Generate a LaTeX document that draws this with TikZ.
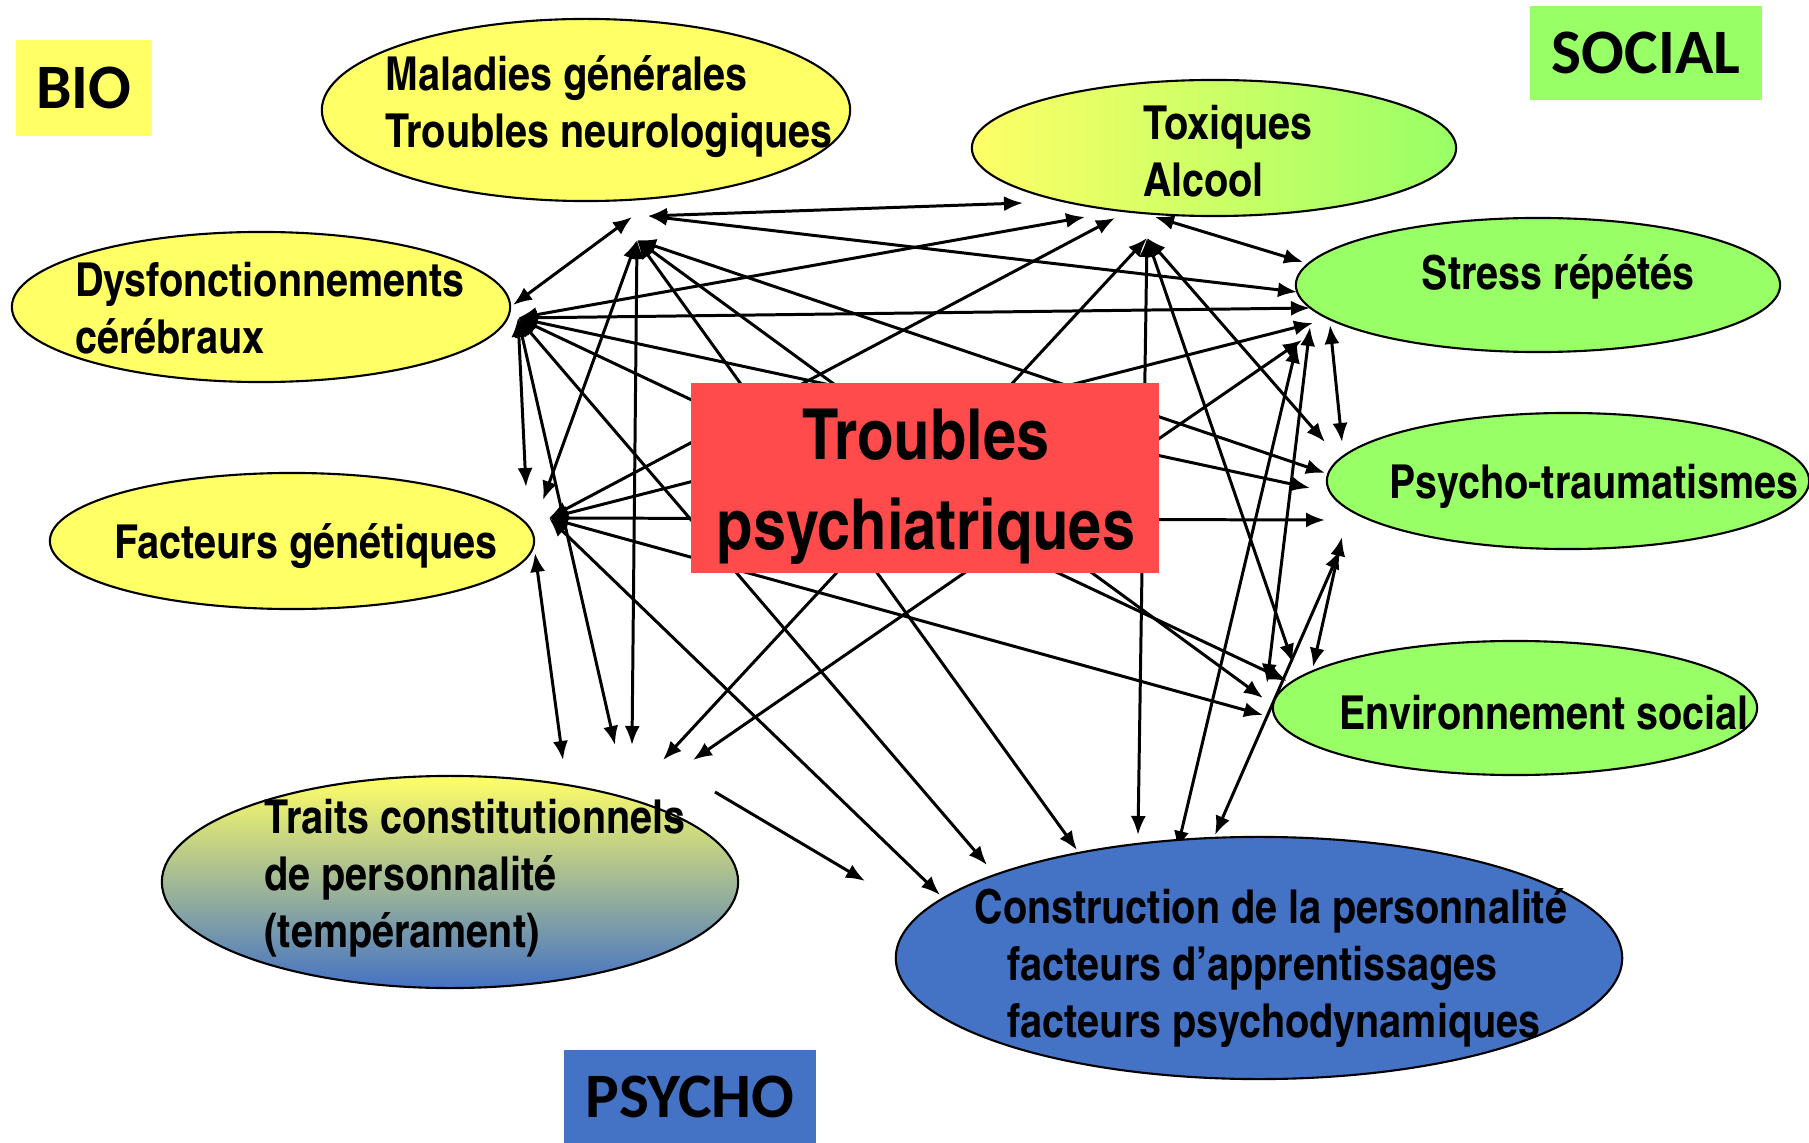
\documentclass[tikz,border=0pt]{standalone}
\usepackage{fontspec}
\setmainfont{Liberation Sans}
\newfontfamily\narrowfont{texgyreheroscn-bold.otf}[FakeStretch=1.03]
\newfontfamily\tagfont{Carlito}
\usetikzlibrary{calc}
\usetikzlibrary{shapes}
\usetikzlibrary{arrows.meta}
\pgfdeclarelayer{background}
\pgfsetlayers{background,main}

\begin{document}
\begin{tikzpicture}[x=0.01cm, y=-0.01cm, >={Latex[length=5.4pt,width=4.3pt]}]
    \definecolor{yel}{RGB}{255, 255, 102}
    \definecolor{grn}{RGB}{153, 255, 102}
    \definecolor{rd}{RGB}{255, 75, 75}
    \definecolor{blu}{RGB}{68, 114, 196}

    \tikzstyle{oval}=[shape=ellipse, draw, line width=0.6pt, inner sep=0pt]
    \tikzstyle{txt}=[align=left, inner sep=0pt, font=\narrowfont\fontsize{13.3}{16.2}\selectfont]
    \tikzstyle{tag}=[inner sep=0pt, font=\tagfont\bfseries\fontsize{18}{20}\selectfont]
    \tikzstyle{link}=[line width=0.85pt, <->]

    \useasboundingbox (0,0) rectangle (1809,1143);

    % corner tags
    \node[tag, fill=yel, minimum width=1.36cm, minimum height=0.96cm] (bio) at (84,88) {BIO};
    \node[tag, fill=grn, minimum width=2.31cm, minimum height=0.94cm] (social) at (1646,53) {SOCIAL};
    \node[tag, fill=blu, minimum width=2.52cm, minimum height=0.93cm] (psycho) at (690,1097) {PSYCHO};

    % bio side
    \node[oval, fill=yel, minimum width=5.28cm, minimum height=1.82cm] (mal) at (586,110) {};
    \node[txt] (mal_t) at ($(mal)+(23,-3)$) {Maladies générales\\Troubles neurologiques};

    \node[oval, fill=yel, minimum width=4.98cm, minimum height=1.50cm] (dys) at (261,307) {};
    \node[txt] (dys_t) at ($(dys)+(9,1)$) {Dysfonctionnements\\cérébraux};

    \node[oval, fill=yel, minimum width=4.84cm, minimum height=1.36cm] (gen) at (292,541) {};
    \node[txt] (gen_t) at ($(gen)+(14,5)$) {Facteurs génétiques};

    \node[oval, left color=yel, right color=grn, minimum width=4.84cm, minimum height=1.36cm] (tox) at (1214,148) {};
    \node[txt] (tox_t) at ($(tox)+(14,3)$) {Toxiques\\Alcool};

    % social side
    \node[oval, fill=grn, minimum width=4.84cm, minimum height=1.34cm] (str) at (1538,285) {};
    \node[txt] (str_t) at ($(str)+(20,-8)$) {Stress répétés};

    \node[oval, fill=grn, minimum width=4.82cm, minimum height=1.36cm] (psy) at (1568,481) {};
    \node[txt] (psy_t) at ($(psy)+(26,5)$) {Psycho-traumatismes};

    \node[oval, fill=grn, minimum width=4.84cm, minimum height=1.34cm] (env) at (1515,708) {};
    \node[txt] (env_t) at ($(env)+(29,5)$) {Environnement social};

    % psycho side
    \node[oval, top color=yel, bottom color=blu, minimum width=5.76cm, minimum height=2.12cm] (tra) at (450,882) {};
    \node[txt] (tra_t) at ($(tra)+(25,-4)$) {Traits constitutionnels\\de personnalité\\(tempérament)};

    \node[oval, fill=blu, minimum width=7.26cm, minimum height=2.42cm] (con) at (1259,958) {};
    \node[txt] (con_t) at ($(con)+(12,10)$) {Construction de la personnalité\\\hspace*{0.33cm}facteurs d’apprentissages\\\hspace*{0.33cm}facteurs psychodynamiques};

    % centre
    \node[fill=rd, minimum width=4.67cm, minimum height=1.89cm, inner sep=0pt] (tp) at (925,478) {};
    \node[align=center, inner sep=0pt, font=\narrowfont\fontsize{20}{25.5}\selectfont] (tp_t) at ($(tp)+(1,9)$) {Troubles\\psychiatriques};

    % hubs
    \coordinate (mal_dys) at ($(mal)+(46,107)$);
    \coordinate (mal_out) at ($(mal)+(62,106)$);
    \coordinate (mal_c) at ($(mal)+(51,130)$);

    \coordinate (tox_mal) at ($(tox)+(-191,55)$);
    \coordinate (tox_dys) at ($(tox)+(-129,69)$);
    \coordinate (tox_gen) at ($(tox)+(-99,70)$);
    \coordinate (tox_str) at ($(tox)+(-59,69)$);
    \coordinate (tox_c) at ($(tox)+(-67,90)$);

    \coordinate (dys_mal) at ($(dys)+(252,-2)$);
    \coordinate (dys_c) at ($(dys)+(257,11)$);

    \coordinate (gen_c) at ($(gen)+(257,-23)$);
    \coordinate (gen_mal) at ($(gen)+(251,-41)$);
    \coordinate (gen_dys) at ($(gen)+(234,-54)$);
    \coordinate (gen_tra) at ($(gen)+(243,12)$);

    \coordinate (tra_gen) at ($(tra)+(113,-122)$);
    \coordinate (tra_dys) at ($(tra)+(165,-137)$);
    \coordinate (tra_mal) at ($(tra)+(182,-137)$);
    \coordinate (tra_tox) at ($(tra)+(213,-122)$);
    \coordinate (tra_str) at ($(tra)+(243,-122)$);
    \coordinate (tra_out) at ($(tra)+(265,-90)$);

    \coordinate (con_tra) at ($(con)+(-394,-77)$);
    \coordinate (con_gen) at ($(con)+(-319,-63)$);
    \coordinate (con_dys) at ($(con)+(-272,-93)$);
    \coordinate (con_mal) at ($(con)+(-182,-108)$);
    \coordinate (con_tox) at ($(con)+(-121,-123)$);
    \coordinate (con_str) at ($(con)+(-82,-108)$);
    \coordinate (con_psy) at ($(con)+(-44,-123)$);

    \coordinate (str_tox) at ($(str)+(-235,-23)$);
    \coordinate (str_mal) at ($(str)+(-241,7)$);
    \coordinate (str_dys) at ($(str)+(-228,23)$);
    \coordinate (str_gen) at ($(str)+(-225,38)$);
    \coordinate (str_env) at ($(str)+(-228,42)$);
    \coordinate (str_psy) at ($(str)+(-208,40)$);
    \coordinate (str_tra) at ($(str)+(-236,55)$);
    \coordinate (str_con) at ($(str)+(-241,59)$);

    \coordinate (psy_tox) at ($(psy)+(-243,-39)$);
    \coordinate (psy_str) at ($(psy)+(-226,-39)$);
    \coordinate (psy_mal) at ($(psy)+(-243,-8)$);
    \coordinate (psy_dys) at ($(psy)+(-258,7)$);
    \coordinate (psy_gen) at ($(psy)+(-243,39)$);
    \coordinate (psy_env) at ($(psy)+(-226,56)$);
    \coordinate (psy_con) at ($(psy)+(-228,69)$);

    \coordinate (env_tox) at ($(env)+(-222,-45)$);
    \coordinate (env_psy) at ($(env)+(-202,-41)$);
    \coordinate (env_str) at ($(env)+(-248,-25)$);
    \coordinate (env_dys) at ($(env)+(-228,-27)$);
    \coordinate (env_mal) at ($(env)+(-252,-10)$);
    \coordinate (env_gen) at ($(env)+(-252,7)$);

    \begin{pgfonlayer}{background}
        \draw[link] (mal_dys) -- (dys_mal);
        \draw[link] (mal_out) -- (tox_mal);
        \draw[link] (mal_out) -- (str_mal);
        \draw[link] (mal_c) -- (gen_mal);
        \draw[link] (mal_c) -- (tra_mal);
        \draw[link] (mal_c) -- (psy_mal);
        \draw[link] (mal_c) -- (env_mal);
        \draw[link] (mal_c) -- (con_mal);

        \draw[link] (dys_c) -- (tox_dys);
        \draw[link] (dys_c) -- (str_dys);
        \draw[link] (dys_c) -- (gen_dys);
        \draw[link] (dys_c) -- (tra_dys);
        \draw[link] (dys_c) -- (psy_dys);
        \draw[link] (dys_c) -- (env_dys);
        \draw[link] (dys_c) -- (con_dys);

        \draw[link] (gen_c) -- (tox_gen);
        \draw[link] (gen_c) -- (str_gen);
        \draw[link] (gen_c) -- (psy_gen);
        \draw[link] (gen_c) -- (env_gen);
        \draw[link] (gen_c) -- (con_gen);
        \draw[link] (gen_tra) -- (tra_gen);

        \draw[link] (tox_str) -- (str_tox);
        \draw[link] (tox_c) -- (tra_tox);
        \draw[link] (tox_c) -- (con_tox);
        \draw[link] (tox_c) -- (psy_tox);
        \draw[link] (tox_c) -- (env_tox);

        \draw[link] (str_tra) -- (tra_str);
        \draw[link] (str_con) -- (con_str);
        \draw[link] (str_env) -- (env_str);
        \draw[link] (str_psy) -- (psy_str);
        \draw[link] (psy_env) -- (env_psy);
        \draw[link] (psy_con) -- (con_psy);

        \draw[line width=0.85pt, ->] (tra_out) -- (con_tra);
    \end{pgfonlayer}
\end{tikzpicture}
\end{document}
